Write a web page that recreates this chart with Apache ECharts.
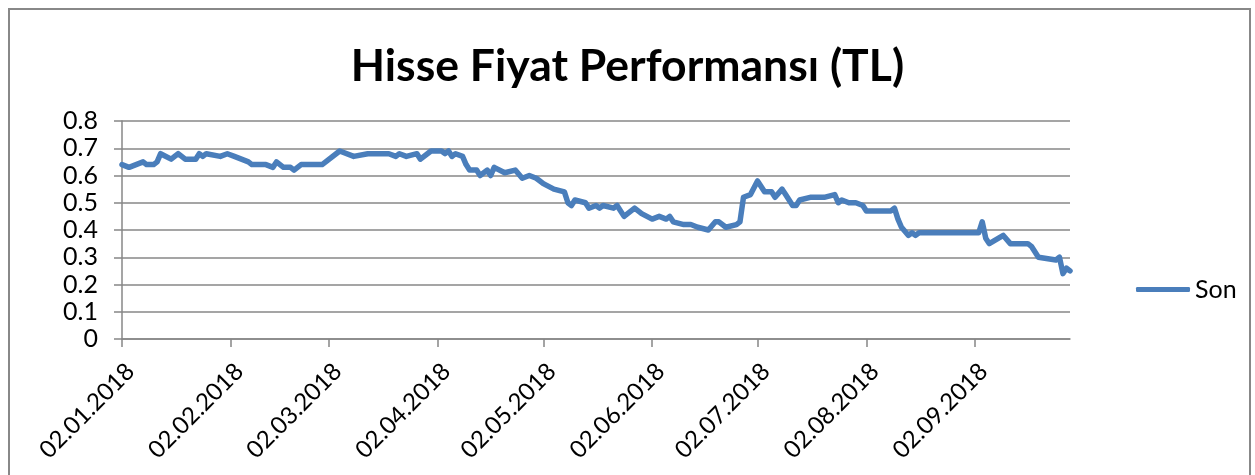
<!DOCTYPE html>
<html>
<head>
<meta charset="utf-8">
<script src="https://cdn.jsdelivr.net/npm/echarts@6/dist/echarts.min.js"></script>
<style>
html,body{margin:0;padding:0;background:#fff;}
#chart{width:1255px;height:475px;}
</style>
</head>
<body>
<div id="chart"></div>
<script>
var chartTitle = 'Hisse Fiyat Performansı (TL)';
var seriesName = 'Son';
var tickLabels = ['02.01.2018','02.02.2018','02.03.2018','02.04.2018','02.05.2018','02.06.2018','02.07.2018','02.08.2018','02.09.2018'];
var yTicks = [0, 0.1, 0.2, 0.3, 0.4, 0.5, 0.6, 0.7, 0.8];
var dates = [
'2018-01-02','2018-01-04','2018-01-06','2018-01-08','2018-01-09','2018-01-11','2018-01-12','2018-01-13','2018-01-16','2018-01-18','2018-01-20','2018-01-23','2018-01-24','2018-01-25','2018-01-26','2018-01-30',
'2018-02-01','2018-02-03','2018-02-05','2018-02-07','2018-02-08','2018-02-12','2018-02-14','2018-02-15','2018-02-17','2018-02-19','2018-02-20','2018-02-22','2018-02-28',
'2018-03-05','2018-03-09','2018-03-13','2018-03-19','2018-03-21','2018-03-22','2018-03-24','2018-03-27','2018-03-28','2018-03-31',
'2018-04-03','2018-04-04','2018-04-05','2018-04-06','2018-04-07','2018-04-09','2018-04-10','2018-04-11','2018-04-13','2018-04-14','2018-04-16','2018-04-17','2018-04-18','2018-04-21','2018-04-24','2018-04-26','2018-04-28','2018-04-30',
'2018-05-02','2018-05-05','2018-05-08','2018-05-09','2018-05-10','2018-05-11','2018-05-14','2018-05-15','2018-05-17','2018-05-18','2018-05-19','2018-05-22','2018-05-23','2018-05-25','2018-05-28','2018-05-30',
'2018-06-02','2018-06-04','2018-06-06','2018-06-07','2018-06-08','2018-06-11','2018-06-13','2018-06-15','2018-06-18','2018-06-20','2018-06-21','2018-06-23','2018-06-26','2018-06-27','2018-06-28','2018-06-30',
'2018-07-02','2018-07-04','2018-07-06','2018-07-07','2018-07-09','2018-07-10','2018-07-12','2018-07-13','2018-07-14','2018-07-17','2018-07-21','2018-07-24','2018-07-25','2018-07-26','2018-07-28','2018-07-30',
'2018-08-01','2018-08-02','2018-08-09','2018-08-10','2018-08-11','2018-08-12','2018-08-14','2018-08-15','2018-08-16','2018-08-17',
'2018-09-03','2018-09-04','2018-09-05','2018-09-06','2018-09-10','2018-09-12','2018-09-17','2018-09-18','2018-09-20','2018-09-25','2018-09-26','2018-09-27','2018-09-28','2018-09-29'
];
var values = [
0.64,0.63,0.64,0.65,0.64,0.64,0.65,0.68,0.66,0.68,0.66,0.66,0.68,0.67,0.68,0.67,
0.68,0.67,0.66,0.65,0.64,0.64,0.63,0.65,0.63,0.63,0.62,0.64,0.64,
0.69,0.67,0.68,0.68,0.67,0.68,0.67,0.68,0.66,0.69,
0.69,0.68,0.69,0.67,0.68,0.67,0.64,0.62,0.62,0.60,0.62,0.60,0.63,0.61,0.62,0.59,0.60,0.59,
0.57,0.55,0.54,0.50,0.49,0.51,0.50,0.48,0.49,0.48,0.49,0.48,0.49,0.45,0.48,0.46,
0.44,0.45,0.44,0.45,0.43,0.42,0.42,0.41,0.40,0.43,0.43,0.41,0.42,0.43,0.52,0.53,
0.58,0.54,0.54,0.52,0.55,0.53,0.49,0.49,0.51,0.52,0.52,0.53,0.50,0.51,0.50,0.50,
0.49,0.47,0.47,0.48,0.44,0.41,0.38,0.39,0.38,0.39,
0.39,0.43,0.37,0.35,0.38,0.35,0.35,0.34,0.30,0.29,0.30,0.24,0.26,0.25
];
var axisStart = '2018-01-02';
var axisEnd = '2018-09-29';

function parseLabel(s){
  var p = s.split('.');
  return Date.UTC(+p[2], +p[1]-1, +p[0]);
}
function parseIso(s){
  var p = s.split('-');
  return Date.UTC(+p[0], +p[1]-1, +p[2]);
}
var tickValues = tickLabels.map(parseLabel);
var labelMap = {};
tickValues.forEach(function(v,i){ labelMap[v] = tickLabels[i]; });
var data = dates.map(function(d,i){ return [parseIso(d), values[i]]; });

var FONT = 'Lato';
var GRID_COLOR = '#878787';
var LINE_COLOR = '#4a7ebb';

var chart = echarts.init(document.getElementById('chart'), null, {renderer:'canvas'});
chart.setOption({
  animation: false,
  backgroundColor: '#ffffff',
  title: {
    text: chartTitle,
    left: 'center',
    top: 39,
    textStyle: {fontFamily: FONT, fontWeight: 'bold', fontSize: 44.5, color: '#000'}
  },
  legend: {
    left: 1131,
    top: 272,
    itemWidth: 54,
    itemHeight: 5,
    itemGap: 5,
    icon: 'roundRect',
    data: [seriesName],
    textStyle: {fontFamily: FONT, fontSize: 25, color: '#000'}
  },
  grid: {left: 122, right: 185, top: 121, bottom: 136, containLabel: false},
  xAxis: {
    type: 'value',
    min: parseIso(axisStart),
    max: parseIso(axisEnd),
    axisLine: {show: true, onZero: false, lineStyle: {color: GRID_COLOR, width: 1.5}},
    axisTick: {show: true, customValues: tickValues, length: 8, lineStyle: {color: GRID_COLOR, width: 1.5}},
    splitLine: {show: false},
    axisLabel: {
      customValues: tickValues,
      rotate: 45,
      margin: 20,
      verticalAlign: 'top',
      fontFamily: FONT,
      fontSize: 24,
      color: '#000',
      formatter: function(v){ return labelMap[v] || ''; }
    }
  },
  yAxis: {
    type: 'value',
    min: 0,
    max: 0.8,
    interval: 0.1,
    axisLine: {show: true, lineStyle: {color: GRID_COLOR, width: 1.5}},
    axisTick: {show: true, length: 8, lineStyle: {color: GRID_COLOR, width: 1.5}},
    splitLine: {show: true, lineStyle: {color: GRID_COLOR, width: 1.5}},
    axisLabel: {
      fontFamily: FONT, fontSize: 25, color: '#000', margin: 24,
      formatter: function(v){
        for (var i=0;i<yTicks.length;i++){ if (Math.abs(yTicks[i]-v)<1e-9) return String(yTicks[i]); }
        return '';
      }
    }
  },
  series: [{
    name: seriesName,
    type: 'line',
    data: data,
    symbol: 'none',
    showSymbol: false,
    lineStyle: {color: LINE_COLOR, width: 5.5, cap: 'round', join: 'round'},
    itemStyle: {color: LINE_COLOR}
  }],
  graphic: [{
    type: 'rect',
    shape: {x: 9, y: 9, width: 1241, height: 490},
    style: {fill: 'none', stroke: '#888888', lineWidth: 2},
    silent: true,
    z: 100
  }]
});
</script>
</body>
</html>
